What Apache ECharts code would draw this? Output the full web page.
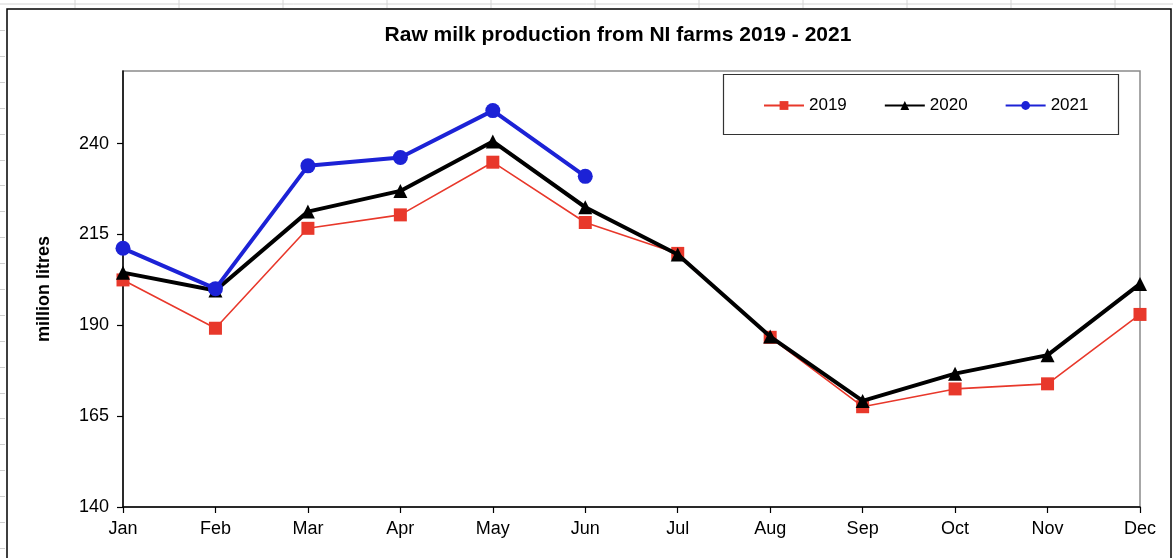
<!DOCTYPE html>
<html>
<head>
<meta charset="utf-8">
<title>Raw milk production from NI farms 2019 - 2021</title>
<script src="https://cdn.jsdelivr.net/npm/echarts@6/dist/echarts.min.js"></script>
<style>
  html, body { margin: 0; padding: 0; background: #fff; }
  #chart { width: 1173px; height: 558px; }
</style>
</head>
<body>
<div id="chart"></div>
<script>
// Monthly raw milk production (million litres)
const months = ['Jan', 'Feb', 'Mar', 'Apr', 'May', 'Jun', 'Jul', 'Aug', 'Sep', 'Oct', 'Nov', 'Dec'];
const milk2019 = [202.5, 189.2, 216.7, 220.4, 234.9, 218.3, 209.8, 186.7, 167.6, 172.5, 173.9, 193.0];
const milk2020 = [204.5, 199.6, 221.3, 227.0, 240.6, 222.5, 209.5, 186.9, 169.2, 176.7, 181.8, 201.4];
const milk2021 = [211.2, 200.1, 233.9, 236.2, 249.1, 231.0];
const yTicks = [140, 165, 190, 215, 240];

const FONT = '"Liberation Sans", Arial, Helvetica, sans-serif';

// faint worksheet cell lines around the chart object
const sheetLines = [];
sheetLines.push({ type: 'line', shape: { x1: 0, y1: 4, x2: 1173, y2: 4 }, style: { stroke: '#d4d4d4', lineWidth: 1 }, silent: true });
for (let x = 75; x < 1173; x += 104) {
  sheetLines.push({ type: 'line', shape: { x1: x, y1: 0, x2: x, y2: 8 }, style: { stroke: '#d4d4d4', lineWidth: 1 }, silent: true });
}
for (let y = 30; y < 558; y += 25.9) {
  sheetLines.push({ type: 'line', shape: { x1: 0, y1: Math.round(y) + 0.5, x2: 5, y2: Math.round(y) + 0.5 }, style: { stroke: '#cfcfcf', lineWidth: 1 }, silent: true });
}

const chart = echarts.init(document.getElementById('chart'), null, { renderer: 'canvas' });

chart.setOption({
  backgroundColor: '#ffffff',
  animation: false,
  title: {
    text: 'Raw milk production from NI farms 2019 - 2021',
    left: 613,
    textAlign: 'center',
    top: 20,
    textStyle: { fontFamily: FONT, fontSize: 21, fontWeight: 'bold', color: '#000' }
  },
  legend: {
    left: 763,
    top: 97,
    itemWidth: 40,
    itemHeight: 11,
    itemGap: 37,
    padding: 0,
    textStyle: { fontFamily: FONT, fontSize: 17, color: '#000' },
    data: ['2019', '2020', '2021']
  },
  grid: {
    left: 123,
    right: 33,
    top: 71,
    bottom: 51,
    show: true,
    borderColor: '#8a8a8a',
    borderWidth: 1.5,
    backgroundColor: 'transparent'
  },
  xAxis: {
    type: 'category',
    data: months,
    boundaryGap: false,
    axisLine: { lineStyle: { color: '#000', width: 1.5 } },
    axisTick: { show: true, length: 6, inside: false, alignWithLabel: true, lineStyle: { color: '#000', width: 1.2 } },
    axisLabel: { margin: 13, fontFamily: FONT, fontSize: 18, color: '#000' },
    splitLine: { show: false }
  },
  yAxis: {
    type: 'value',
    min: 140,
    max: 260,
    name: 'million litres',
    nameLocation: 'middle',
    nameRotate: 90,
    nameGap: 70,
    nameTextStyle: { fontFamily: FONT, fontSize: 18, fontWeight: 'bold', color: '#000' },
    axisLine: { show: true, lineStyle: { color: '#000', width: 1.5 } },
    axisTick: { show: true, length: 6, lineStyle: { color: '#000', width: 1.2 }, customValues: yTicks },
    axisLabel: { margin: 14, fontFamily: FONT, fontSize: 18, color: '#000', customValues: yTicks },
    splitLine: { show: false }
  },
  graphic: sheetLines.concat([
    {
      type: 'rect',
      shape: { x: 7, y: 9, width: 1164, height: 560 },
      style: { fill: 'none', stroke: '#000', lineWidth: 1.5 },
      silent: true, z: 0
    },
    {
      type: 'rect',
      shape: { x: 723.5, y: 74.5, width: 395, height: 60 },
      style: { fill: 'none', stroke: '#333', lineWidth: 1.2 },
      silent: true, z: 0
    }
  ]),
  series: [
    {
      name: '2019',
      type: 'line',
      data: milk2019,
      symbol: 'rect',
      symbolSize: 13,
      showAllSymbol: true,
      lineStyle: { color: '#E8382B', width: 1.6 },
      itemStyle: { color: '#E8382B' },
      z: 2
    },
    {
      name: '2020',
      type: 'line',
      data: milk2020,
      symbol: 'triangle',
      symbolSize: 14,
      showAllSymbol: true,
      lineStyle: { color: '#000000', width: 4 },
      itemStyle: { color: '#000000' },
      z: 3
    },
    {
      name: '2021',
      type: 'line',
      data: milk2021,
      symbol: 'circle',
      symbolSize: 15,
      showAllSymbol: true,
      lineStyle: { color: '#1C22D6', width: 4 },
      itemStyle: { color: '#1C22D6' },
      z: 4
    }
  ]
});
</script>
</body>
</html>
